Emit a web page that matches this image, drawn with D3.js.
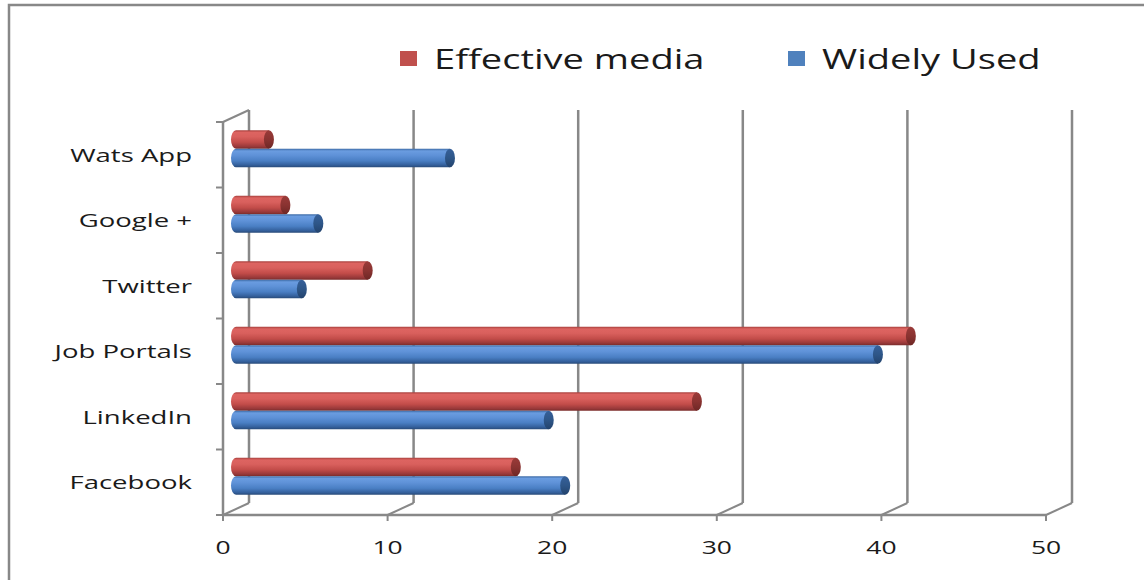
<!DOCTYPE html>
<html lang="en">
<head>
  <meta charset="UTF-8">
  <title>Effective media vs Widely Used</title>
  <script src="https://d3js.org/d3.v7.min.js"></script>
  <style>
    body {
      margin: 0;
      background-color: #ffffff;
      font-family: "Open Sans", Arial, sans-serif;
    }
    svg text {
      fill: #1a1a1a;
    }
  </style>
</head>
<body>

<div id="chart"></div>

<script>
  // data, bottom to top as in the chart
  var categories = ["Facebook", "LinkedIn", "Job Portals", "Twitter", "Google +", "Wats App"];
  var effectiveMedia = [17, 28, 41, 8, 3, 2];
  var widelyUsed = [20, 19, 39, 4, 5, 13];
  var seriesNames = ["Effective media", "Widely Used"];
  var xTicks = [0, 10, 20, 30, 40, 50];

  var width = 1144, height = 580;
  var axisColor = "#888888";
  var depthX = 26, depthY = -12;   // 3D depth of the back wall

  var svg = d3.select("#chart")
    .append("svg")
    .attr("width", width)
    .attr("height", height);

  // gradients for the cylinders
  var defs = svg.append("defs");
  function cylGradient(id, stops) {
    var g = defs.append("linearGradient")
      .attr("id", id)
      .attr("x1", 0).attr("y1", 0).attr("x2", 0).attr("y2", 1);
    stops.forEach(function(s) {
      g.append("stop").attr("offset", s[0]).attr("stop-color", s[1]);
    });
  }
  cylGradient("redCyl", [[0, "#a8403d"], [0.12, "#dd6461"], [0.35, "#d9605d"], [0.65, "#c24c49"], [0.88, "#99393a"], [1, "#7a2c2a"]]);
  cylGradient("blueCyl", [[0, "#3c6aa5"], [0.12, "#6a9ce0"], [0.35, "#5f92d8"], [0.65, "#4a7fc4"], [0.88, "#34609c"], [1, "#284a78"]]);
  cylGradient("redCap", [[0, "#9a3b39"], [0.5, "#8a3331"], [1, "#6e2725"]]);
  cylGradient("blueCap", [[0, "#36609a"], [0.5, "#2e5688"], [1, "#23436d"]]);

  var fills = { "Effective media": "url(#redCyl)", "Widely Used": "url(#blueCyl)" };
  var caps = { "Effective media": "url(#redCap)", "Widely Used": "url(#blueCap)" };
  var legendColors = { "Effective media": "#c0504d", "Widely Used": "#4f81bd" };

  // outer border
  svg.append("path")
    .attr("d", "M9,580 L9,5 L1144,5")
    .attr("fill", "none")
    .attr("stroke", axisColor)
    .attr("stroke-width", 2.5);

  // scales
  var x = d3.scaleLinear().domain([0, 50]).range([223, 1046]);
  var y = d3.scaleBand()
    .domain(categories.slice().reverse())
    .range([122, 515]);
  var yInner = d3.scaleBand()
    .domain(seriesNames)
    .range([0, y.bandwidth()])
    .paddingOuter(0.77);

  // back wall gridlines
  svg.append("g").selectAll("line")
    .data(xTicks)
    .join("line")
    .attr("x1", function(d) { return x(d) + depthX; })
    .attr("x2", function(d) { return x(d) + depthX; })
    .attr("y1", y.range()[0] + depthY)
    .attr("y2", y.range()[1] + depthY)
    .attr("stroke", axisColor)
    .attr("stroke-width", 2.5);

  // floor diagonals from front ticks to back wall
  svg.append("g").selectAll("line")
    .data(xTicks)
    .join("line")
    .attr("x1", function(d) { return x(d); })
    .attr("x2", function(d) { return x(d) + depthX; })
    .attr("y1", y.range()[1])
    .attr("y2", y.range()[1] + depthY)
    .attr("stroke", axisColor)
    .attr("stroke-width", 2);

  // top-left diagonal
  svg.append("line")
    .attr("x1", x(0)).attr("y1", y.range()[0])
    .attr("x2", x(0) + depthX).attr("y2", y.range()[0] + depthY)
    .attr("stroke", axisColor)
    .attr("stroke-width", 2);

  // front axes
  svg.append("line")
    .attr("x1", x(0)).attr("x2", x(0))
    .attr("y1", y.range()[0]).attr("y2", y.range()[1])
    .attr("stroke", axisColor).attr("stroke-width", 2.5);
  svg.append("line")
    .attr("x1", x(0)).attr("x2", x(50))
    .attr("y1", y.range()[1]).attr("y2", y.range()[1])
    .attr("stroke", axisColor).attr("stroke-width", 2.5);

  // tick marks
  var bandEdges = y.domain().map(function(c) { return y(c); }).concat([y.range()[1]]);
  svg.append("g").selectAll("line")
    .data(bandEdges)
    .join("line")
    .attr("x1", x(0) - 7).attr("x2", x(0))
    .attr("y1", function(d) { return d; })
    .attr("y2", function(d) { return d; })
    .attr("stroke", axisColor).attr("stroke-width", 2);
  svg.append("g").selectAll("line")
    .data(xTicks)
    .join("line")
    .attr("x1", function(d) { return x(d); })
    .attr("x2", function(d) { return x(d); })
    .attr("y1", y.range()[1]).attr("y2", y.range()[1] + 6)
    .attr("stroke", axisColor).attr("stroke-width", 2);

  // x tick labels
  svg.append("g").selectAll("text")
    .data(xTicks)
    .join("text")
    .attr("transform", function(d) { return "translate(" + x(d) + ",554) scale(1.47,1)"; })
    .attr("text-anchor", "middle")
    .style("font-size", "18px")
    .text(function(d) { return d; });

  // category labels
  svg.append("g").selectAll("text")
    .data(categories)
    .join("text")
    .attr("transform", function(d) { return "translate(192," + (y(d) + y.bandwidth() / 2 + 7) + ") scale(1.53,1)"; })
    .attr("text-anchor", "end")
    .style("font-size", "18px")
    .text(function(d) { return d; });

  // cylinders
  var rows = [];
  categories.forEach(function(c, i) {
    rows.push({ cat: c, series: "Effective media", value: effectiveMedia[i] });
    rows.push({ cat: c, series: "Widely Used", value: widelyUsed[i] });
  });

  var rx = 5;
  var bars = svg.append("g").selectAll("g")
    .data(rows)
    .join("g");

  bars.append("path")
    .attr("d", function(d) {
      var top = y(d.cat) + yInner(d.series) + depthY / 2;
      var h = yInner.bandwidth();
      var x0 = x(0) + depthX / 2, x1 = x(d.value) + depthX / 2;
      return "M" + x1 + "," + top + " L" + x0 + "," + top +
        " A" + rx + "," + (h / 2) + " 0 0 0 " + x0 + "," + (top + h) +
        " L" + x1 + "," + (top + h) + " Z";
    })
    .attr("fill", function(d) { return fills[d.series]; });

  bars.append("ellipse")
    .attr("cx", function(d) { return x(d.value) + depthX / 2; })
    .attr("cy", function(d) { return y(d.cat) + yInner(d.series) + depthY / 2 + yInner.bandwidth() / 2; })
    .attr("rx", rx)
    .attr("ry", yInner.bandwidth() / 2)
    .attr("fill", function(d) { return caps[d.series]; });

  // legend
  var legendX = { "Effective media": 400, "Widely Used": 788 };
  var legend = svg.append("g").selectAll("g")
    .data(seriesNames)
    .join("g");
  legend.append("rect")
    .attr("x", function(d) { return legendX[d]; })
    .attr("y", 51)
    .attr("width", 17)
    .attr("height", 15)
    .attr("fill", function(d) { return legendColors[d]; });
  legend.append("text")
    .attr("transform", function(d) { return "translate(" + (legendX[d] + 34) + ",69) scale(1.41,1)"; })
    .style("font-size", "27px")
    .text(function(d) { return d; });
</script>

</body>
</html>
